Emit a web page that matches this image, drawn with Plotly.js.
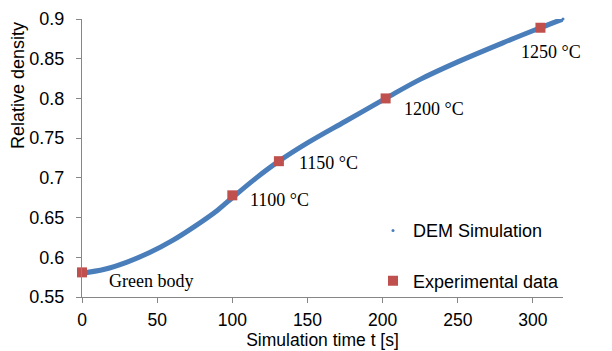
<!DOCTYPE html>
<html>
<head>
<meta charset="utf-8">
<script src="https://cdn.plot.ly/plotly-3.0.1.min.js"></script>
<style>html,body{margin:0;padding:0;background:#fff;}#chart{width:612px;height:351px;}</style>
</head>
<body>
<div id="chart"></div>
<script>
// DEM simulation curve
const simTime = [0, 15, 30, 45, 60, 75, 90, 100, 116, 131, 150, 175, 202, 225, 250, 280, 305, 320];
const simDensity = [0.580, 0.585, 0.594, 0.606, 0.621, 0.639, 0.659, 0.675, 0.700, 0.721, 0.744, 0.771, 0.800, 0.824, 0.846, 0.870, 0.889, 0.900];

// Experimental data
const expTime = [0, 100, 131, 202, 305];
const expDensity = [0.581, 0.678, 0.721, 0.800, 0.889];
const expLabels = ["Green body", "1100 °C", "1150 °C", "1200 °C", "1250 °C"];

// Axis ticks
const xTicks = [0, 50, 100, 150, 200, 250, 300];
const yTicks = [0.55, 0.6, 0.65, 0.7, 0.75, 0.8, 0.85, 0.9];

// label offsets (style, pixels)
const labelShift = [[25, -9], [16, -5], [18, -2], [16, -11], [-21, -24]];

const blue = '#4a7ebb';
const red = '#c0504d';
const axisGrey = '#868686';
const sans = 'Liberation Sans, Arial, sans-serif';
const serif = 'Liberation Serif, Times New Roman, serif';

const traces = [
  { x: simTime, y: simDensity, type: 'scatter', mode: 'markers', name: 'DEM Simulation',
    marker: { color: blue, size: 3 }, legendgroup: 'a', cliponaxis: false, hoverinfo: 'skip' },
  { x: simTime, y: simDensity, type: 'scatter', mode: 'lines', showlegend: false,
    line: { color: blue, width: 5, shape: 'spline', smoothing: 1 }, cliponaxis: false },
  { x: expTime, y: expDensity, type: 'scatter', mode: 'markers', name: 'Experimental data',
    marker: { color: red, size: 10, symbol: 'square' }, legendgroup: 'b', cliponaxis: false }
];

const annotations = expLabels.map((t, i) => ({
  x: expTime[i], y: expDensity[i], xref: 'x', yref: 'y', text: t, showarrow: false,
  xanchor: 'left', yanchor: 'middle', xshift: labelShift[i][0], yshift: labelShift[i][1],
  font: { family: serif, size: 18, color: '#000' }
}));
annotations.push({
  x: 0, y: 0.759, xref: 'paper', yref: 'paper', text: 'Relative density', showarrow: false,
  textangle: -90, xanchor: 'center', yanchor: 'middle', xshift: -64,
  font: { family: sans, size: 18, color: '#000' }
});

const axisStyle = {
  showgrid: false, zeroline: false, showline: true, linecolor: axisGrey, linewidth: 1,
  ticks: 'outside', ticklen: 5, tickcolor: axisGrey, tickwidth: 1,
  tickfont: { family: sans, size: 18, color: '#000' }
};

const layout = {
  width: 612, height: 351,
  margin: { l: 82, r: 49, t: 19, b: 54, pad: 0 },
  paper_bgcolor: '#fff', plot_bgcolor: '#fff',
  xaxis: Object.assign({}, axisStyle, {
    range: [0, 320], tickmode: 'array', tickvals: xTicks, ticklabelstandoff: 2,
    tickfont: { family: sans, size: 17.5, color: '#000' },
    title: { text: 'Simulation time t [s]', font: { family: sans, size: 17.5, color: '#000' }, standoff: 0 }
  }),
  yaxis: Object.assign({}, axisStyle, {
    range: [0.55, 0.9], tickmode: 'array', tickvals: yTicks, ticklabelstandoff: 8
  }),
  showlegend: true,
  legend: {
    x: 0.605, xanchor: 'left', y: 0.305, yanchor: 'top', traceorder: 'grouped', tracegroupgap: 24,
    font: { family: sans, size: 18, color: '#000' }, bgcolor: 'rgba(0,0,0,0)', itemclick: false
  },
  annotations: annotations
};

Plotly.newPlot('chart', traces, layout, { displayModeBar: false, staticPlot: true });
</script>
</body>
</html>
